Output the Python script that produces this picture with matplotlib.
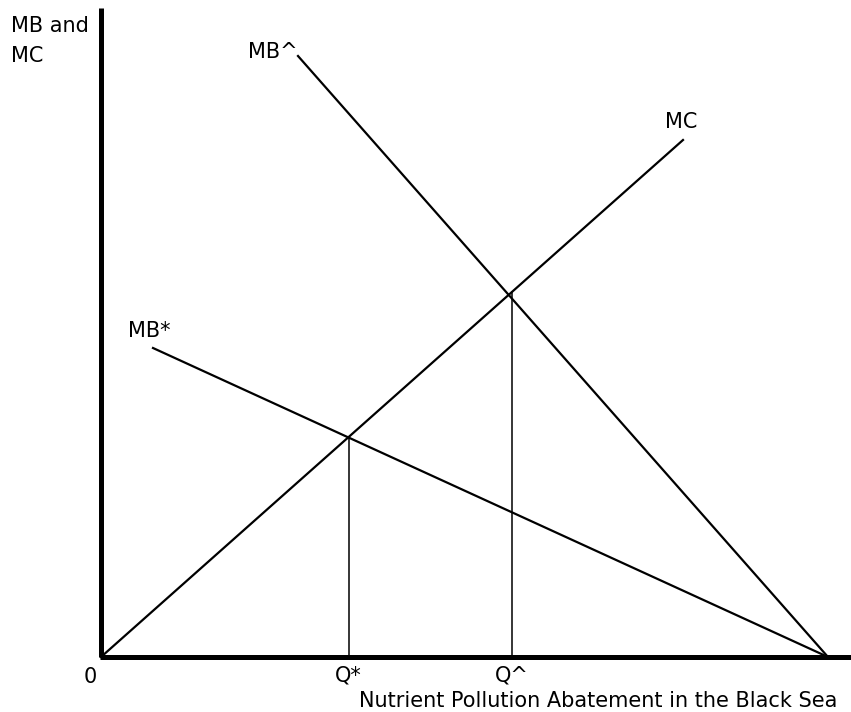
import matplotlib
matplotlib.use("Agg")
import matplotlib.pyplot as plt
import numpy as np

plt.rcParams['font.family'] = ['DejaVu Sans']

# curves (quantity, price) end points
mc_q = [0, 582]
mc_p = [0, 517]
mbhat_q = [197, 727]
mbhat_p = [601, 0]
mbstar_q = [52, 727]
mbstar_p = [309, 0]

# equilibrium quantities
q_star = 248
q_hat = 411

fig = plt.figure(figsize=(8.51, 7.12), dpi=100)
ax = fig.add_axes([0, 0, 1, 1])
ax.set_xlim(-101, 750)
ax.set_ylim(-55, 657)
ax.axis('off')

# axes
ax.plot([0, 0], [0, 649], color='black', linewidth=3.6, solid_capstyle='butt')
ax.plot([-1.5, 750], [0, 0], color='black', linewidth=3.6, solid_capstyle='butt')

ax.plot(mc_q, mc_p, color='black', linewidth=1.6)
ax.plot(mbhat_q, mbhat_p, color='black', linewidth=1.6)
ax.plot(mbstar_q, mbstar_p, color='black', linewidth=1.6)

for q in [q_star, q_hat]:
    ax.plot([q, q], [0, np.interp(q, mc_q, mc_p)], color='black', linewidth=1.1)

fs = 15
ax.text(-90, 625, 'MB and', fontsize=fs, ha='left', va='baseline')
ax.text(-90, 595, 'MC', fontsize=fs, ha='left', va='baseline')
ax.text(-11, -26, '0', fontsize=fs, ha='center', va='baseline')
ax.text(q_star - 1, -25, 'Q*', fontsize=fs, ha='center', va='baseline')
ax.text(q_hat, -25, 'Q^', fontsize=fs, ha='center', va='baseline')
ax.text(258, -50, 'Nutrient Pollution Abatement in the Black Sea', fontsize=fs,
        ha='left', va='baseline')
ax.text(147, 599, 'MB^', fontsize=fs, ha='left', va='baseline')
ax.text(564, 529, 'MC', fontsize=fs, ha='left', va='baseline')
ax.text(27, 320, 'MB*', fontsize=fs, ha='left', va='baseline')

fig.savefig('out.png', dpi=100)
